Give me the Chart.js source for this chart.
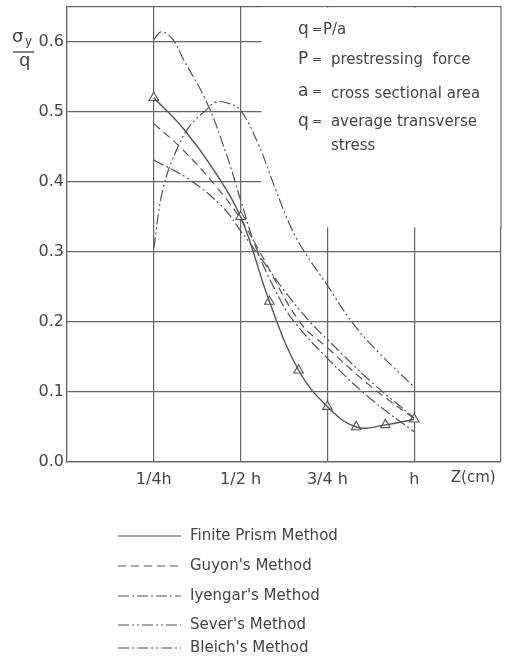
<!DOCTYPE html>
<html><head><meta charset="utf-8">
<script src="https://cdn.jsdelivr.net/npm/chart.js@4/dist/chart.umd.min.js"></script>
<style>html,body{margin:0;padding:0;background:#fff}canvas{display:block}</style>
</head><body>
<canvas id="c" width="519" height="659"></canvas>
<script>
// ---- data (x in fractions of h, y = sigma_y / q) ----
const xTickValues = [0.25, 0.5, 0.75, 1.0];
const xTickLabels = ['1/4h', '1/2 h', '3/4 h', 'h'];

const finiteX = [0.25, 0.333, 0.417, 0.5, 0.583, 0.667, 0.75, 0.833, 0.917, 1.0];
const finiteY = [0.52, 0.477, 0.421, 0.35, 0.229, 0.131, 0.079, 0.050, 0.053, 0.061];
const finiteMarkX = [0.25, 0.5, 0.583, 0.667, 0.75, 0.833, 0.917, 1.0];
const finiteMarkY = [0.52, 0.35, 0.229, 0.131, 0.079, 0.050, 0.053, 0.061];

const guyonX = [0.25, 0.333, 0.43, 0.5, 0.555, 0.67, 0.75, 0.875, 1.0];
const guyonY = [0.483, 0.446, 0.393, 0.347, 0.30, 0.20, 0.163, 0.108, 0.062];

const iyengarX = [0.25, 0.272, 0.305, 0.336, 0.402, 0.46, 0.5, 0.545, 0.60, 0.65, 0.75, 0.875, 1.0];
const iyengarY = [0.603, 0.614, 0.603, 0.574, 0.514, 0.438, 0.374, 0.305, 0.245, 0.203, 0.148, 0.09, 0.043];

const severX = [0.25, 0.276, 0.316, 0.353, 0.402, 0.431, 0.47, 0.5, 0.55, 0.60, 0.645, 0.684, 0.75, 0.82, 0.9, 1.0];
const severY = [0.305, 0.389, 0.446, 0.479, 0.503, 0.514, 0.511, 0.502, 0.455, 0.39, 0.335, 0.30, 0.252, 0.20, 0.155, 0.107];

const bleichX = [0.25, 0.353, 0.448, 0.5, 0.56, 0.625, 0.70, 0.75, 0.875, 1.0];
const bleichY = [0.431, 0.403, 0.364, 0.33, 0.29, 0.245, 0.20, 0.175, 0.115, 0.063];

const seriesNames = ['Finite Prism Method', "Guyon's Method", "Iyengar's Method", "Sever's Method", "Bleich's Method"];
const noteLines = [['q', '=', 'P/a'], ['P', '=', 'prestressing  force'], ['a', '=', 'cross sectional area'], ['q', '=', 'average transverse'], ['', '', 'stress']];

const pts = (xs, ys) => xs.map((x, i) => ({x: x, y: ys[i]}));
const INK = '#555';
const GRID = '#666';
const FONT = '"DejaVu Sans", sans-serif';

const dashes = [[], [8, 5], [11, 3, 2, 3], [11, 3, 2, 3, 2, 3], [11, 3, 2, 3, 11, 3, 2, 3, 2, 3]];
const lineSet = (label, data, dash, w) => ({
  type: 'line', label, data, borderColor: INK, borderWidth: w, borderDash: dash,
  pointRadius: 0, fill: false, tension: 0.4
});

const datasets = [
  lineSet(seriesNames[0], pts(finiteX, finiteY), dashes[0], 1.4),
  lineSet(seriesNames[1], pts(guyonX, guyonY), dashes[1], 1.2),
  lineSet(seriesNames[2], pts(iyengarX, iyengarY), dashes[2], 1.2),
  lineSet(seriesNames[3], pts(severX, severY), dashes[3], 1.2),
  lineSet(seriesNames[4], pts(bleichX, bleichY), dashes[4], 1.2),
  { type: 'scatter', label: 'marks', data: pts(finiteMarkX, finiteMarkY), pointStyle: 'triangle',
    pointRadius: 5.5, borderColor: INK, backgroundColor: '#fff', borderWidth: 1.1, showLine: false }
];

const decor = {
  id: 'decor',
  beforeDatasetsDraw(chart) {
    const {ctx, chartArea: a, scales: {x, y}} = chart;
    ctx.save();
    ctx.fillStyle = '#fff';
    const x1 = x.getPixelForValue(0.56), y2 = y.getPixelForValue(0.335);
    ctx.fillRect(x1, a.top + 1, a.right + 2 - x1, y2 - a.top - 1);
    // restore the right frame edge under the note box
    ctx.strokeStyle = GRID; ctx.lineWidth = 1.2;
    const xr = x.getPixelForValue(1.25);
    ctx.beginPath(); ctx.moveTo(xr, a.top); ctx.lineTo(xr, y2 + 1); ctx.stroke();
    ctx.restore();
  },
  afterDraw(chart) {
    const {ctx, chartArea: a, scales: {x, y}} = chart;
    ctx.save();
    ctx.fillStyle = '#444';
    ctx.strokeStyle = '#444';
    // y-axis label sigma_y / q
    ctx.textBaseline = 'alphabetic';
    ctx.textAlign = 'left';
    ctx.font = '18px ' + FONT;
    ctx.fillText('σ', 12, 42);
    ctx.font = '12px ' + FONT;
    ctx.fillText('y', 25, 45);
    ctx.lineWidth = 1.3;
    ctx.beginPath(); ctx.moveTo(13, 52); ctx.lineTo(34, 52); ctx.stroke();
    ctx.font = '18px ' + FONT;
    ctx.fillText('q', 19, 66);
    // x-axis unit label
    ctx.textAlign = 'center'; ctx.textBaseline = 'middle';
    ctx.font = '15px ' + FONT;
    ctx.fillText('Z(cm)', x.getPixelForValue(1.17), a.bottom + 16);
    // notes
    ctx.textAlign = 'left';
    const nx = x.getPixelForValue(0.665);
    const rowsY = [30, 60, 92, 122, 146];
    noteLines.forEach((r, i) => {
      ctx.font = '17px ' + FONT;
      ctx.fillText(r[0], nx, rowsY[i]);
      ctx.font = '12px ' + FONT;
      ctx.fillText(r[1], nx + 14, rowsY[i]);
      ctx.font = '15px ' + FONT;
      ctx.fillText(r[2], i === 0 ? nx + 25 : nx + 33, rowsY[i] + (i === 2 ? 2 : 0));
    });
    // legend
    const legY = [536, 566, 596, 625, 648];
    chart.data.datasets.slice(0, 5).forEach((d, i) => {
      ctx.save();
      ctx.strokeStyle = INK; ctx.lineWidth = 1.2; ctx.setLineDash(d.borderDash);
      ctx.beginPath(); ctx.moveTo(118, legY[i]); ctx.lineTo(181, legY[i]); ctx.stroke();
      ctx.restore();
      ctx.font = '15px ' + FONT;
      ctx.fillText(d.label, 190, legY[i]);
    });
    ctx.restore();
  }
};

new Chart(document.getElementById('c'), {
  data: { datasets },
  options: {
    responsive: false, animation: false, devicePixelRatio: 1,
    layout: { padding: { left: 0, right: 18, top: 6, bottom: 167 } },
    plugins: { legend: { display: false }, tooltip: { enabled: false } },
    scales: {
      x: {
        type: 'linear', min: 0, max: 1.25,
        grid: { color: GRID, lineWidth: 1.2, drawTicks: false },
        border: { color: GRID, width: 1.2 },
        ticks: {
          stepSize: 0.25, padding: 8, color: '#444', font: { size: 16, family: FONT },
          callback: v => { const k = xTickValues.findIndex(t => Math.abs(t - v) < 1e-6); return k < 0 ? '' : xTickLabels[k]; }
        },
        afterFit(s) { s.height = 30; s.paddingLeft = 0; s.paddingRight = 0; }
      },
      y: {
        type: 'linear', min: 0, max: 0.65,
        grid: { color: GRID, lineWidth: 1.2, drawTicks: false },
        border: { color: GRID, width: 1.2 },
        ticks: {
          stepSize: 0.1, padding: 3, color: '#444', font: { size: 16, family: FONT },
          callback: v => v > 0.62 ? '' : v.toFixed(1)
        },
        afterFit(s) { s.width = 67; s.paddingTop = 0; s.paddingBottom = 0; }
      }
    }
  },
  plugins: [decor]
});
</script>
</body></html>
